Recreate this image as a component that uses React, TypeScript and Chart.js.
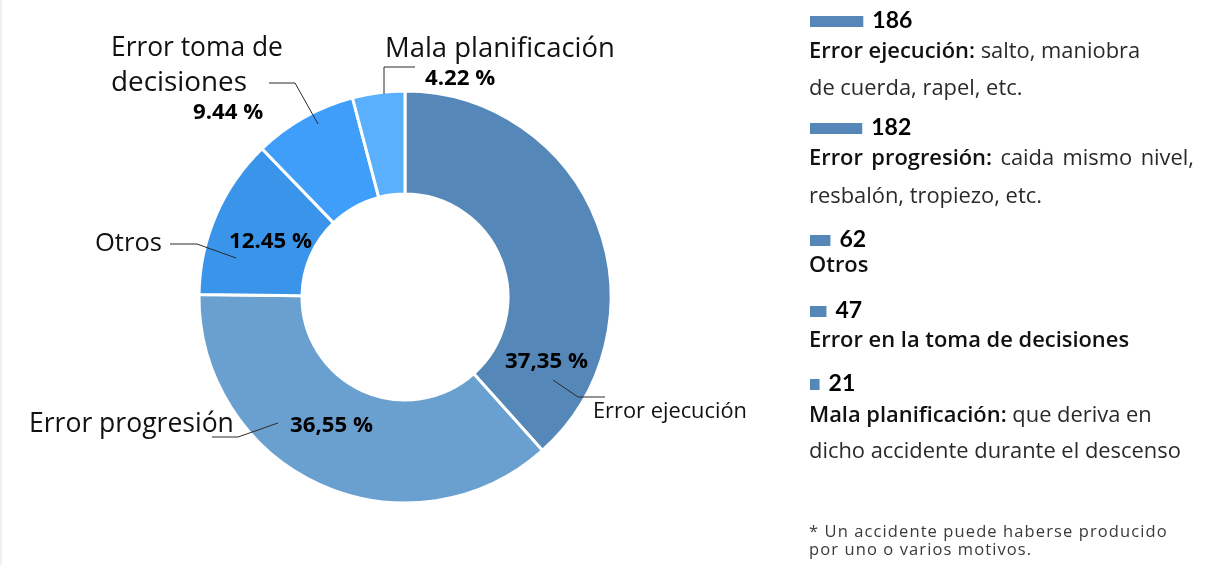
import React, { useEffect, useRef } from "react";
import { Chart, registerables } from "chart.js";

Chart.register(...registerables);

// ---------------- DATA ----------------
const categories = [
  "Error ejecución",
  "Error progresión",
  "Otros",
  "Error toma de decisiones",
  "Mala planificación",
];
// counts shown in the list on the right
const counts = [186, 182, 62, 47, 21];
// angular share of each ring slice as drawn in the picture (%)
const arcShares = [38.35, 36.8, 12.6, 8.1, 4.1];
const percentLabels = ["37,35 %", "36,55 %", "12.45 %", "9.44 %", "4.22 %"];
const sliceLabelLines = [
  ["Error ejecución"],
  ["Error progresión"],
  ["Otros"],
  ["Error toma de", "decisiones"],
  ["Mala planificación"],
];
const legendBold = [
  "Error ejecución:",
  "Error progresión:",
  "Otros",
  "Error en la toma de decisiones",
  "Mala planificación:",
];
const legendRest = [" salto, maniobra", " caida mismo nivel,", "", "", " que deriva en"];
const legendSecondLine = [
  "de cuerda, rapel, etc.",
  "resbalón, tropiezo, etc.",
  "",
  "",
  "dicho accidente durante el descenso",
];
const footnoteLines = ["* Un accidente puede haberse producido", "por uno o varios motivos."];

// ---------------- STYLE / LAYOUT ----------------
const sliceColors = ["#5588B8", "#6AA0D0", "#3A95EA", "#3E9EFA", "#5AB0FC"];
const barColor = "#5587B8";
const W = 1221;
const H = 565;
const SANS = "'Open Sans', sans-serif";
const LATO = "Lato, sans-serif";

const sliceLabelLayout = [
  { nx: 593, ny: [418], nw: [154], px: 505, py: 368, leader: [[553, 380], [578, 397], [605, 397]] },
  { nx: 29, ny: [432], nw: [205], px: 290, py: 432, leader: [[278, 423], [238, 437], [212, 437]] },
  { nx: 95, ny: [251], nw: [67], px: 229, py: 248, leader: [[236, 258], [197, 244], [170, 244]] },
  { nx: 111, ny: [56, 91], nw: [172, 136], px: 193, py: 119, leader: [[318, 124], [295, 83], [269, 83]] },
  { nx: 385, ny: [57], nw: [230], px: 425, py: 85, leader: [[384, 94], [384, 67], [415, 67]] },
];

const legendX = 809;
const legendNumY = [28, 135, 247, 318, 391];
const legendLine1Y = [58, 165, 272, 347, 422];
const legendLine2Y = [95, 203, 0, 0, 458];
const legendJustify = [false, true, false, false, false];
const legendWidth = 385;

function fitSize(ctx: CanvasRenderingContext2D, text: string, weight: string, family: string, target: number) {
  ctx.font = `${weight} 20px ${family}`;
  const m = ctx.measureText(text).width;
  return (20 * target) / m;
}

const overlayPlugin = {
  id: "overlay",
  afterDraw(chart: any) {
    const ctx: CanvasRenderingContext2D = chart.ctx;
    ctx.save();

    // faint left border
    ctx.fillStyle = "#f0f0f0";
    ctx.fillRect(0, 0, 2, H);

    // leader lines
    ctx.strokeStyle = "#2a2a2a";
    ctx.lineWidth = 1;
    sliceLabelLayout.forEach((l) => {
      ctx.beginPath();
      l.leader.forEach((p, i) => (i === 0 ? ctx.moveTo(p[0], p[1]) : ctx.lineTo(p[0], p[1])));
      ctx.stroke();
    });

    // slice names + percents
    ctx.textBaseline = "alphabetic";
    ctx.textAlign = "left";
    const pctSize = fitSize(ctx, "12.45 %", "700", SANS, 83);
    sliceLabelLayout.forEach((l, i) => {
      ctx.fillStyle = "#111";
      sliceLabelLines[i].forEach((t, j) => {
        const s = fitSize(ctx, t, "500", SANS, l.nw[j]);
        ctx.font = `500 ${s}px ${SANS}`;
        ctx.fillText(t, l.nx, l.ny[j]);
      });
      ctx.font = `700 ${pctSize}px ${SANS}`;
      ctx.fillStyle = "#000";
      ctx.fillText(percentLabels[i], l.px, l.py);
    });

    // legend list (bars from data)
    const barScale = 0.265;
    const legSize = fitSize(ctx, "dicho accidente durante el descenso", "400", SANS, 372);
    const boldFont = `600 ${legSize}px ${SANS}`;
    const regFont = `400 ${legSize}px ${SANS}`;
    counts.forEach((v, i) => {
      const w = 4 + v * barScale;
      const base = legendNumY[i];
      ctx.fillStyle = barColor;
      ctx.fillRect(legendX + 1, base - 12, w, 11);
      ctx.fillStyle = "#000";
      ctx.font = `700 23px ${LATO}`;
      ctx.fillText(String(v), legendX + 1 + w + 9, base);

      const y1 = legendLine1Y[i];
      if (legendJustify[i]) {
        const tokens: { t: string; b: boolean }[] = [];
        legendBold[i].split(" ").forEach((t) => tokens.push({ t, b: true }));
        legendRest[i].trim().split(" ").forEach((t) => tokens.push({ t, b: false }));
        let total = 0;
        const widths = tokens.map((tk) => {
          ctx.font = tk.b ? boldFont : regFont;
          const m = ctx.measureText(tk.t).width;
          total += m;
          return m;
        });
        const gap = (legendWidth - total) / (tokens.length - 1);
        let x = legendX;
        tokens.forEach((tk, k) => {
          ctx.font = tk.b ? boldFont : regFont;
          ctx.fillStyle = tk.b ? "#111" : "#2a2a2a";
          ctx.fillText(tk.t, x, y1);
          x += widths[k] + gap;
        });
      } else {
        ctx.font = boldFont;
        ctx.fillStyle = "#111";
        ctx.fillText(legendBold[i], legendX, y1);
        const bw = ctx.measureText(legendBold[i]).width;
        if (legendRest[i]) {
          ctx.font = regFont;
          ctx.fillStyle = "#2a2a2a";
          ctx.fillText(legendRest[i], legendX + bw, y1);
        }
      }
      if (legendSecondLine[i]) {
        ctx.font = regFont;
        ctx.fillStyle = "#2a2a2a";
        ctx.fillText(legendSecondLine[i], legendX, legendLine2Y[i]);
      }
    });

    // footnote
    ctx.font = `400 16.5px ${SANS}`;
    ctx.fillStyle = "#3a3a3a";
    try {
      (ctx as any).letterSpacing = "1.1px";
    } catch (e) {}
    ctx.fillText(footnoteLines[0], 809, 537);
    ctx.fillText(footnoteLines[1], 809, 555);

    ctx.restore();
  },
};

export default function App() {
  const ref = useRef<HTMLCanvasElement | null>(null);

  useEffect(() => {
    document.body.style.margin = "0";
    if (!ref.current) return;
    const chart = new Chart(ref.current, {
      type: "doughnut",
      data: {
        labels: categories,
        datasets: [
          {
            data: arcShares,
            backgroundColor: sliceColors,
            borderColor: "#ffffff",
            borderWidth: 3,
            hoverOffset: 0,
          },
        ],
      },
      options: {
        responsive: false,
        animation: false,
        devicePixelRatio: 1,
        cutout: "50%",
        events: [],
        layout: { padding: { left: 197.5, right: 608.5, top: 89.5, bottom: 60.5 } },
        plugins: {
          legend: { display: false },
          tooltip: { enabled: false },
        },
      },
      plugins: [overlayPlugin],
    } as any);
    return () => chart.destroy();
  }, []);

  return (
    <div style={{ position: "fixed", left: 0, top: 0, width: W, height: H, background: "#fff" }}>
      <canvas ref={ref} width={W} height={H} style={{ display: "block", width: W, height: H }} />
    </div>
  );
}
